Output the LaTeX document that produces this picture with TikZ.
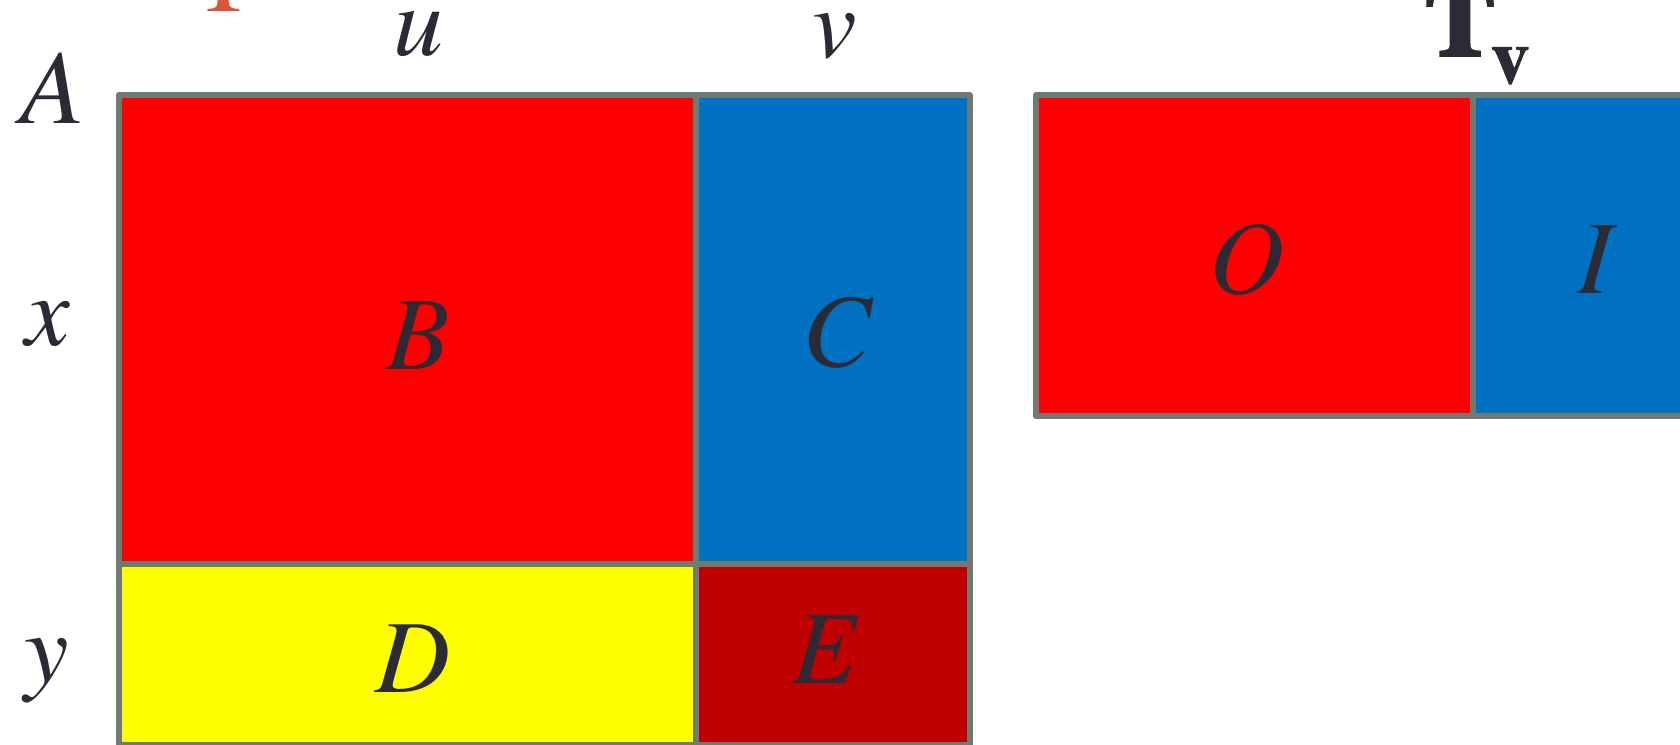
\documentclass[tikz,border=0pt]{standalone}
\usepackage{fontspec}
\setmainfont{TeX Gyre Termes}
\newfontfamily\heavyfont[FakeBold=3.5]{TeX Gyre Termes Bold}
\newfontfamily\subfont[FakeBold=1.2]{TeX Gyre Termes Bold}
\usepackage{xcolor}
\usetikzlibrary{positioning}
\definecolor{gridline}{RGB}{110,122,114}
\definecolor{ink}{RGB}{43,42,53}
\definecolor{cellred}{RGB}{255,0,0}
\definecolor{cellblue}{RGB}{0,112,192}
\definecolor{cellyellow}{RGB}{255,255,0}
\definecolor{celldark}{RGB}{190,0,0}
\definecolor{tagorange}{RGB}{217,83,58}
\tikzset{
	cell/.style={draw=gridline, line width=0.6mm, line join=round, inner sep=0pt,
		outer sep=0pt},
	redc/.style={cell, fill=cellred},
	bluec/.style={cell, fill=cellblue},
	yelc/.style={cell, fill=cellyellow},
	darkc/.style={cell, fill=celldark},
	lbl/.style={text=ink, inner sep=0pt, outer sep=0pt,
		font=\fontsize{29.5}{31}\selectfont\itshape},
	hdr/.style={anchor=base, text=ink, inner sep=0pt, outer sep=0pt,
		font=\fontsize{28.5}{30}\selectfont\itshape},
	bighdr/.style={anchor=base, text=ink, inner sep=0pt, outer sep=0pt,
		font=\fontsize{30}{32}\selectfont\heavyfont},
}

\begin{document}
\begin{tikzpicture}[x=1cm, y=1cm, >=latex]
	\useasboundingbox (0,0) rectangle (16.80,-7.44);
	% left block
	\node[redc, minimum width=5.77cm, minimum height=4.69cm] at (4.075,-3.295) (cB) {};
	\node[bluec, minimum width=2.74cm, minimum height=4.69cm] at (8.330,-3.295) (cC) {};
	\node[yelc, minimum width=5.77cm, minimum height=1.81cm] at (4.075,-6.545) (cD) {};
	\node[darkc, minimum width=2.74cm, minimum height=1.81cm] at (8.330,-6.545) (cE) {};
	% right block
	\node[redc, minimum width=4.37cm, minimum height=3.21cm] at (12.545,-2.555) (cO) {};
	\node[bluec, minimum width=2.44cm, minimum height=3.21cm] at (15.950,-2.555) (cI) {};
	% cell letters
	\node[lbl] at (4.18,-3.36) (tB) {B};
	\node[lbl] at (8.37,-3.33) (tC) {C};
	\node[lbl] at (4.125,-6.59) (tD) {D};
	\node[lbl] at (8.24,-6.50) (tE) {E};
	\node[lbl] at (12.47,-2.60) (tO) {O};
	\node[lbl] at (15.95,-2.60) (tI) {I};
	% labels
	\node[hdr, font=\fontsize{30}{32}\selectfont\itshape] at (0.53,-1.23) (lA) {A};
	\node[hdr] at (4.19,-0.55) (lu) {u};
	\node[hdr] at (8.35,-0.57) (lv) {v};
	\node[hdr] at (0.48,-3.45) (lx) {x};
	\node[hdr] at (0.47,-6.82) (ly) {y};
	\node[bighdr] at (14.60,-0.55) (lT) {T};
	\node[bighdr, font=\fontsize{22}{24}\selectfont\subfont] at (15.10,-0.83) (lTv) {v};
	\node[hdr, text=tagorange, font=\fontsize{31}{33}\selectfont] at (2.235,-0.11) (lTop) {T};
\end{tikzpicture}
\end{document}
